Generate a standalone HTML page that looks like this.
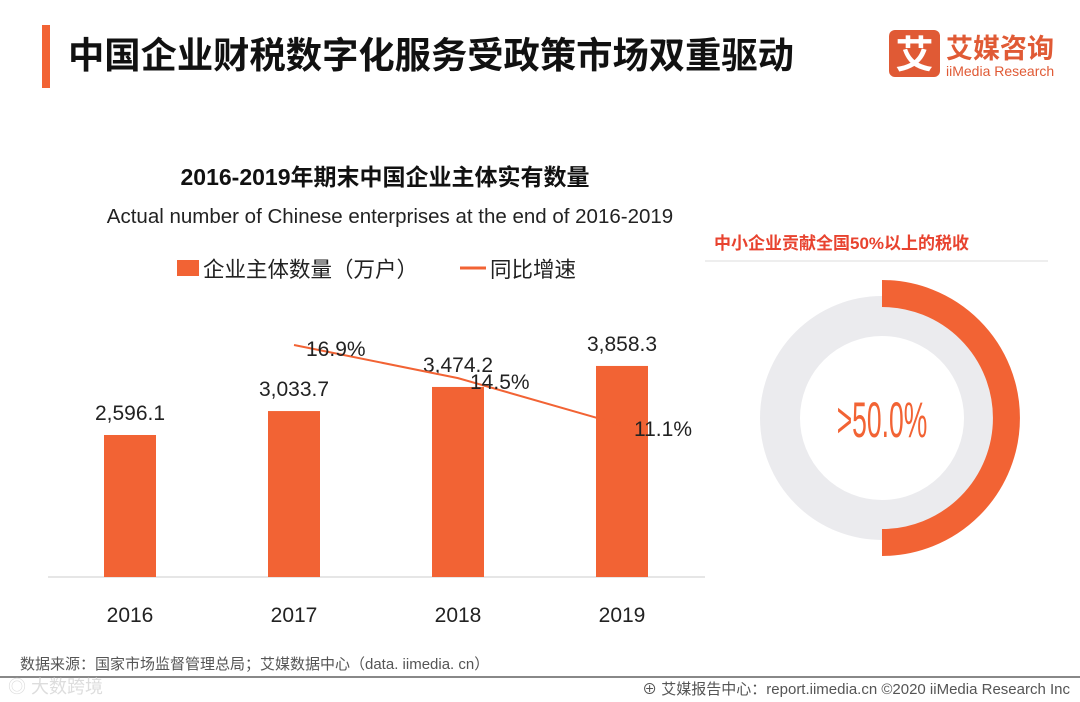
<!DOCTYPE html>
<html><head><meta charset="utf-8">
<style>
body{margin:0;width:1080px;height:702px;background:#fff;overflow:hidden;font-family:"Liberation Sans","Noto Sans CJK SC",sans-serif;}
svg{display:block}
</style></head>
<body>
<svg width="1080" height="702" viewBox="0 0 1080 702">
<rect x="42" y="25" width="8" height="63" fill="#f26334"/>
<text x="68" y="68" font-size="36.3" font-weight="bold" fill="#111" font-family="Liberation Sans, Noto Sans CJK SC, sans-serif">中国企业财税数字化服务受政策市场双重驱动</text>
<g>
<rect x="889" y="30" width="51" height="47" rx="6" fill="#e05a35"/>
<text x="914.5" y="68" font-size="38" font-weight="bold" fill="#fff" text-anchor="middle" font-family="Noto Sans CJK SC, sans-serif">艾</text>
<text x="946" y="58" font-size="27" font-weight="bold" fill="#e05a35" font-family="Noto Sans CJK SC, sans-serif">艾媒咨询</text>
<text x="946" y="76" font-size="14" fill="#e05a35" font-family="Liberation Sans, sans-serif">iiMedia Research</text>
</g>
<text x="385" y="185" font-size="23" font-weight="bold" fill="#111" text-anchor="middle">2016-2019年期末中国企业主体实有数量</text>
<text x="390" y="223" font-size="20.5" fill="#222" text-anchor="middle">Actual number of Chinese enterprises at the end of 2016-2019</text>
<g>
<rect x="177" y="260" width="22" height="16" fill="#f26334"/>
<text x="203" y="277" font-size="21.5" fill="#222">企业主体数量（万户）</text>
<line x1="460" y1="268" x2="486" y2="268" stroke="#f26334" stroke-width="3"/>
<text x="490" y="277" font-size="21.5" fill="#222">同比增速</text>
</g>
<line x1="48" y1="577" x2="705" y2="577" stroke="#ccc" stroke-width="1"/>
<g id="plot"></g>
<text x="714" y="249" font-size="17" font-weight="bold" fill="#e8432f">中小企业贡献全国50%以上的税收</text>
<line x1="705" y1="261" x2="1048" y2="261" stroke="#ddd" stroke-width="1"/>
<g id="donut"></g>
<text x="20" y="669" font-size="15" fill="#555">数据来源：国家市场监督管理总局；艾媒数据中心（data. iimedia. cn）</text>
<line x1="0" y1="677" x2="1080" y2="677" stroke="#888" stroke-width="2"/>
<text x="8" y="693" font-size="18" fill="#ddd">◎ 大数跨境</text>
<text x="1070" y="694" font-size="15" fill="#555" text-anchor="end">⊕ 艾媒报告中心：report.iimedia.cn   ©2020  iiMedia Research  Inc</text>
</svg>
<script>
const years=["2016","2017","2018","2019"];
const counts=[2596.1,3033.7,3474.2,3858.3];
const countLabels=["2,596.1","3,033.7","3,474.2","3,858.3"];
const growth=[null,16.9,14.5,11.1];
const growthLabels=["","16.9%","14.5%","11.1%"];
const share=[50,50];
const NS="http://www.w3.org/2000/svg";
const plot=document.getElementById('plot');
const x=i=>130+i*164;
const yb=v=>577-v*0.0547;
const yg=v=>345+(16.9-v)*13.8;
function mk(t,a,p){const e=document.createElementNS(NS,t);for(const k in a)e.setAttribute(k,a[k]);p.appendChild(e);return e;}
counts.forEach((v,i)=>{
 const r=mk('rect',{x:x(i)-26,y:yb(v),width:52,height:577-yb(v),fill:'#f26334'},plot);
 
 
 const t=mk('text',{x:x(i),y:yb(v)-15,'font-size':21,fill:'#222','text-anchor':'middle'},plot);t.textContent=countLabels[i];
 
 
 const l=mk('text',{x:x(i),y:622,'font-size':21,fill:'#222','text-anchor':'middle'},plot);l.textContent=years[i];
 
 
});
let pts=[];growth.forEach((g,i)=>{if(g!==null)pts.push(x(i)+','+yg(g));});
const pl=mk('polyline',{points:pts.join(' '),fill:'none',stroke:'#f26334','stroke-width':2},plot);


growth.forEach((g,i)=>{if(g===null)return;
 const t=mk('text',{x:x(i)+12,y:yg(g)+11,'font-size':21,fill:'#222'},plot);t.textContent=growthLabels[i];
 
 
});
const d=document.getElementById('donut');
const cx=882,cy=418;
const g1=mk('circle',{cx:cx,cy:cy,r:102,fill:'none',stroke:'#ebebee','stroke-width':40},d);


const frac=share[0]/(share[0]+share[1]);
const a=frac*2*Math.PI, R=124.5;
const ex=cx+R*Math.sin(a), ey=cy-R*Math.cos(a);
const arc=mk('path',{d:`M${cx},${cy-R} A${R},${R} 0 ${frac>0.5?1:0} 1 ${ex},${ey}`,fill:'none',stroke:'#f26334','stroke-width':27},d);


const dt=mk('text',{x:0,y:0,'font-size':50,fill:'#f26334','text-anchor':'middle',transform:`translate(${cx},${cy+19}) scale(0.53,1)`},d);
dt.textContent='>50.0%';


</script>
</body></html>
